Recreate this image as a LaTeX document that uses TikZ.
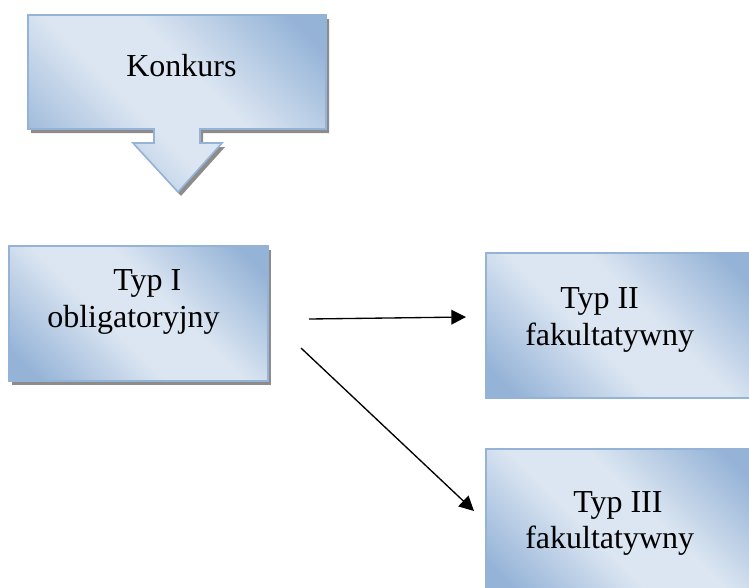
\documentclass[tikz,border=0pt]{standalone}
\usepackage{fontspec}
\setmainfont{Liberation Serif}
\usetikzlibrary{arrows.meta,shadows}

\definecolor{boxlight}{HTML}{DCE6F2}
\definecolor{boxdark}{HTML}{95B3D7}
\definecolor{boxline}{HTML}{95B3D7}
\pgfdeclareverticalshading{boxshade}{100bp}{color(0bp)=(boxdark); color(20bp)=(boxdark); color(43bp)=(boxlight); color(57bp)=(boxlight); color(80bp)=(boxdark); color(100bp)=(boxdark)}

\tikzset{
  box/.style={draw=boxline, line width=1.2pt, shading=boxshade, shading angle=-45,
    rectangle, inner sep=0pt, anchor=north west},
  shadowed/.style={drop shadow={shadow xshift=2.25pt, shadow yshift=-3pt, fill=black!45, opacity=1}},
  lbl/.style={font=\fontsize{24}{28}\selectfont, inner sep=0pt, anchor=base west},
  conn/.style={line width=1pt, -{Triangle[length=11pt,width=11pt]}}
}

\begin{document}
\begin{tikzpicture}[x=0.75pt,y=-0.75pt]
   \useasboundingbox (0,0) rectangle (749,587);
   % callout with arrow
   \path[box, shadowed] (28,15) -- (326,15) -- (326,129) -- (200,129) -- (200,143)
      -- (222,143) -- (178,192) -- (133,143) -- (154,143) -- (154,129) -- (28,129) -- cycle;
   \node[lbl] (konkurs) at (126,76) {Konkurs};
   % boxes
   \node[box, shadowed, minimum width=194.25pt, minimum height=101.25pt] (typI) at (8,245) {};
   \node[box, minimum width=199.5pt, minimum height=108.75pt] (typII) at (485,252) {};
   \node[box, minimum width=199.5pt, minimum height=108.75pt] (typIII) at (485,448) {};
   \node[lbl] (typIa) at (113,290) {Typ I};
   \node[lbl] (typIb) at (47,327) {obligatoryjny};
   \node[lbl] (typIIa) at (560,308) {Typ II};
   \node[lbl] (typIIb) at (525,345) {fakultatywny};
   \node[lbl] (typIIIa) at (573,512) {Typ III};
   \node[lbl] (typIIIb) at (525,548) {fakultatywny};
   % connectors
   \coordinate (a1s) at (309,319);
   \coordinate (a1e) at (466,317);
   \coordinate (a2s) at (301,348);
   \coordinate (a2e) at (474,511);
   \draw[conn] (a1s) -- (a1e);
   \draw[conn] (a2s) -- (a2e);
\end{tikzpicture}
\end{document}
